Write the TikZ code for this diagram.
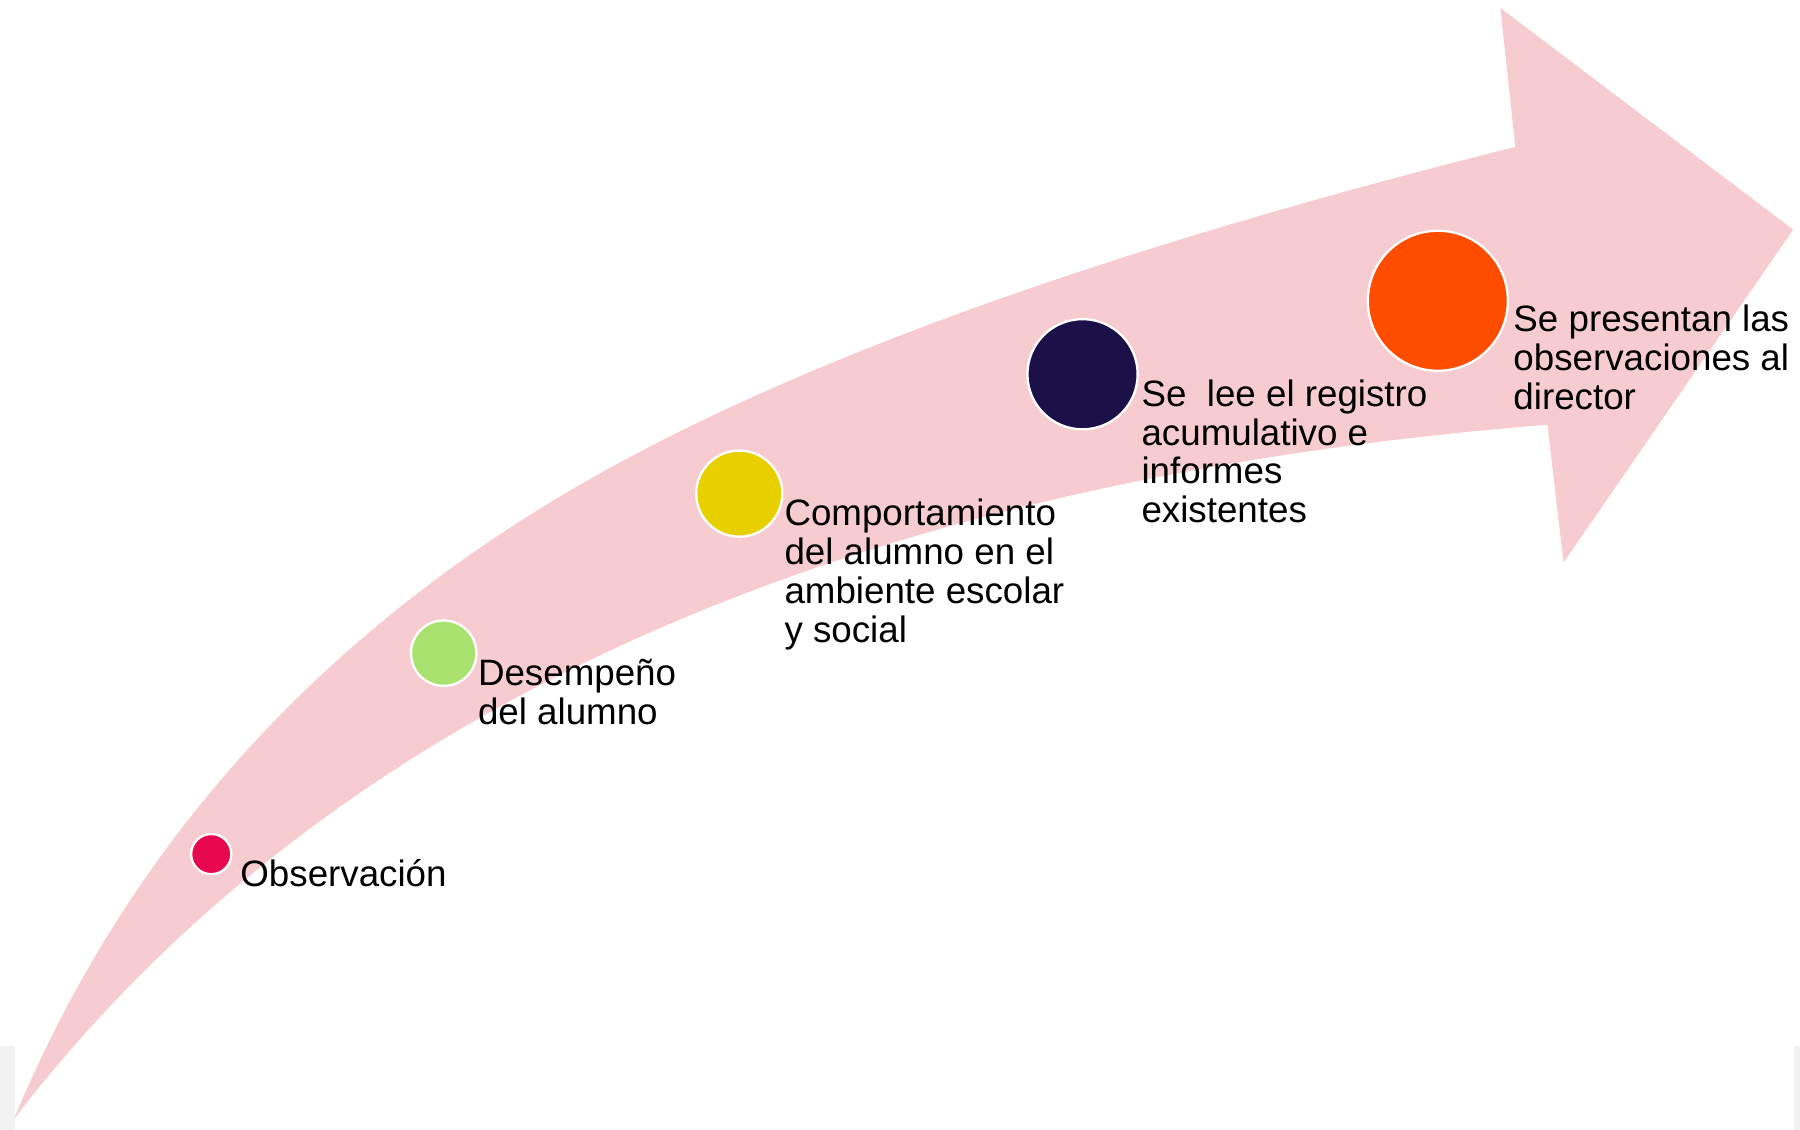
\documentclass[tikz,border=0pt]{standalone}
\usepackage{fontspec}
\setmainfont{Liberation Sans}
\definecolor{band}{RGB}{246,204,209}
\definecolor{stripgrey}{RGB}{242,242,242}
\definecolor{cred}{RGB}{230,7,80}
\definecolor{cgreen}{RGB}{169,226,111}
\definecolor{cyellow}{RGB}{232,208,0}
\definecolor{cnavy}{RGB}{28,16,72}
\definecolor{corange}{RGB}{255,77,0}
\tikzset{
  dot/.style={circle, draw=white, line width=1pt, inner sep=0pt},
  lbl/.style={anchor=base west, inner sep=0pt, font=\fontsize{16}{16.9}\selectfont, text=black}
}
\newcommand{\stack}[1]{\vtop{\baselineskip=16.9pt #1}}
\begin{document}
\begin{tikzpicture}[x=0.5pt, y=-0.5pt]
\useasboundingbox (0,0) rectangle (1568,984);
\fill[white] (0,0) rectangle (1568,984);
\fill[stripgrey] (0,911) rectangle (13,984);
\fill[stripgrey] (1563,911) rectangle (1568,984);
% curved arrow band
\fill[band] (12,975) .. controls (109.7,740.6) and (273.7,556.6) .. (504,423)
  .. controls (687.8,316.4) and (959.8,218.1) .. (1320,128)
  -- (1307,7) -- (1562,200) -- (1362,490) -- (1348,370)
  .. controls (729.5,419) and (284,621) .. (12,975) -- cycle;
% circles
\node[dot, fill=cred, minimum size=17.5pt] (c1) at (184,744) {};
\node[dot, fill=cgreen, minimum size=28.5pt] (c2) at (386.5,569) {};
\node[dot, fill=cyellow, minimum size=37.5pt] (c3) at (644,430) {};
\node[dot, fill=cnavy, minimum size=48pt] (c4) at (943,326) {};
\node[dot, fill=corange, minimum size=61pt] (c5) at (1252.5,262) {};
% labels
\node[lbl] (t1) at (209,772) {Observación};
\node[lbl] (t2) at (416,597) {\stack{\hbox{Desempeño}\hbox{del alumno}}};
\node[lbl] (t3) at (683,458) {\stack{\hbox{Comportamiento}\hbox{del alumno en el}\hbox{ambiente escolar}\hbox{y social}}};
\node[lbl] (t4) at (994,354) {\stack{\hbox{Se\ \ lee el registro}\hbox{acumulativo e}\hbox{informes}\hbox{existentes}}};
\node[lbl] (t5) at (1318,289) {\stack{\hbox{Se presentan las}\hbox{observaciones al}\hbox{director}}};
\end{tikzpicture}
\end{document}
